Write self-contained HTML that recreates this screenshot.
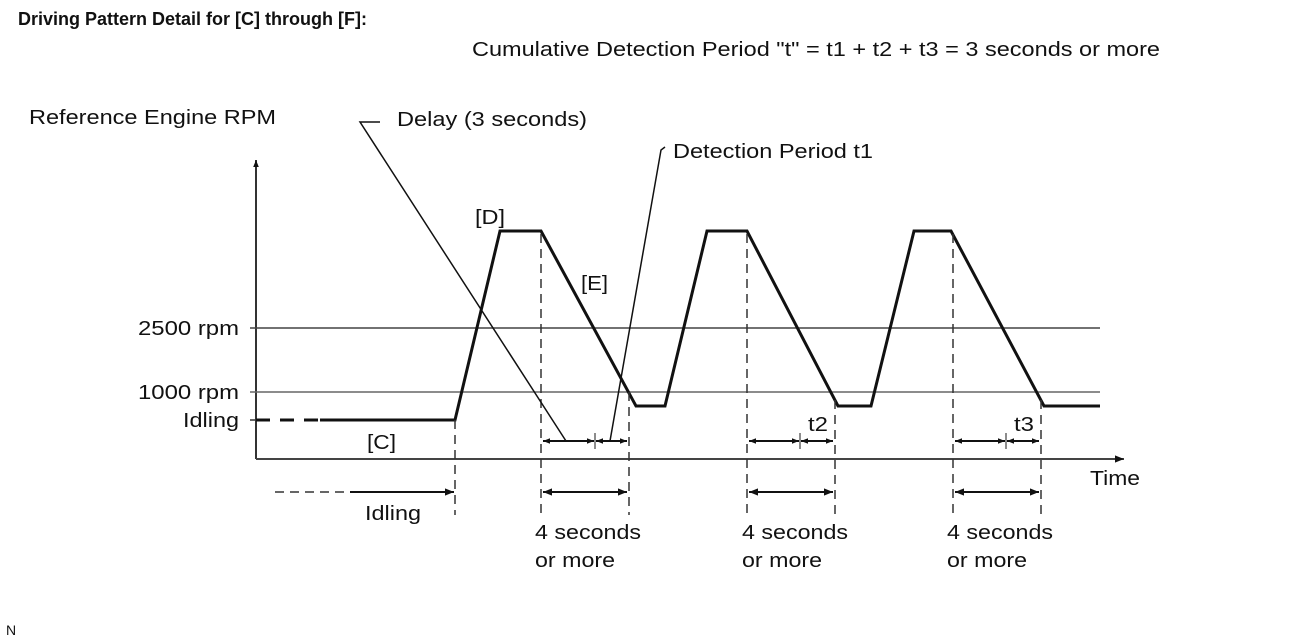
<!DOCTYPE html>
<html><head><meta charset="utf-8"><style>
html,body{margin:0;padding:0;background:#fff;}
svg{display:block;font-family:"Liberation Sans",Arial,sans-serif;}
</style></head><body>
<svg width="1300" height="642" viewBox="0 0 1300 642">
<defs>
<marker id="a" viewBox="0 0 10 10" refX="10" refY="5" markerWidth="12" markerHeight="7" orient="auto-start-reverse" markerUnits="userSpaceOnUse"><path d="M0,1 L10,5 L0,9 z" fill="#111"/></marker>
<marker id="b" viewBox="0 0 10 10" refX="10" refY="5" markerWidth="20" markerHeight="9" orient="auto-start-reverse" markerUnits="userSpaceOnUse"><path d="M0,1 L10,5 L0,9 z" fill="#111"/></marker>
</defs>
<g fill="#111" font-size="20" lengthAdjust="spacingAndGlyphs">
<text x="18" y="25" font-size="18" font-weight="bold" textLength="349" lengthAdjust="spacingAndGlyphs">Driving Pattern Detail for [C] through [F]:</text>
<text x="472" y="56" textLength="688" lengthAdjust="spacingAndGlyphs">Cumulative Detection Period "t" = t1 + t2 + t3 = 3 seconds or more</text>
<text x="29" y="124" textLength="247" lengthAdjust="spacingAndGlyphs">Reference Engine RPM</text>
<text x="397" y="126" textLength="190" lengthAdjust="spacingAndGlyphs">Delay (3 seconds)</text>
<text x="673" y="158" textLength="200" lengthAdjust="spacingAndGlyphs">Detection Period t1</text>
<text x="475" y="224" textLength="30" lengthAdjust="spacingAndGlyphs">[D]</text>
<text x="581" y="290" textLength="27" lengthAdjust="spacingAndGlyphs">[E]</text>
<text x="138" y="335" textLength="101" lengthAdjust="spacingAndGlyphs">2500 rpm</text>
<text x="138" y="399" textLength="101" lengthAdjust="spacingAndGlyphs">1000 rpm</text>
<text x="183" y="427" textLength="56" lengthAdjust="spacingAndGlyphs">Idling</text>
<text x="367" y="449" textLength="29" lengthAdjust="spacingAndGlyphs">[C]</text>
<text x="808" y="431" textLength="20" lengthAdjust="spacingAndGlyphs">t2</text>
<text x="1014" y="431" textLength="20" lengthAdjust="spacingAndGlyphs">t3</text>
<text x="1090" y="485" textLength="50" lengthAdjust="spacingAndGlyphs">Time</text>
<text x="365" y="520" textLength="56" lengthAdjust="spacingAndGlyphs">Idling</text>
<text x="535" y="539" textLength="106" lengthAdjust="spacingAndGlyphs">4 seconds</text><text x="535" y="567" textLength="80" lengthAdjust="spacingAndGlyphs">or more</text>
<text x="742" y="539" textLength="106" lengthAdjust="spacingAndGlyphs">4 seconds</text><text x="742" y="567" textLength="80" lengthAdjust="spacingAndGlyphs">or more</text>
<text x="947" y="539" textLength="106" lengthAdjust="spacingAndGlyphs">4 seconds</text><text x="947" y="567" textLength="80" lengthAdjust="spacingAndGlyphs">or more</text>
<text x="6" y="635" font-size="14">N</text>
</g>
<!-- axes -->
<line x1="256" y1="459" x2="256" y2="160" stroke="#333" stroke-width="2" marker-end="url(#a)"/>
<line x1="256" y1="459" x2="1124" y2="459" stroke="#444" stroke-width="2" marker-end="url(#b)"/>
<line x1="250" y1="328" x2="1100" y2="328" stroke="#444" stroke-width="1.5"/>
<line x1="250" y1="392" x2="1100" y2="392" stroke="#666" stroke-width="1.5"/>
<line x1="250" y1="420" x2="256" y2="420" stroke="#333" stroke-width="1.5"/>
<!-- curve -->
<line x1="256" y1="420" x2="320" y2="420" stroke="#111" stroke-width="3" stroke-dasharray="14,10"/>
<polyline fill="none" stroke="#111" stroke-width="3" points="320,420 455,420 500,231 541,231 636,406 665,406 707,231 747,231 838,406 871,406 914,231 951,231 1044,406 1100,406"/>
<!-- dashed verticals -->
<g stroke="#333" stroke-width="1.5" stroke-dasharray="9,6">
<line x1="455" y1="420" x2="455" y2="515"/>
<line x1="541" y1="234" x2="541" y2="515"/>
<line x1="629" y1="392" x2="629" y2="515"/>
<line x1="747" y1="234" x2="747" y2="515"/>
<line x1="835" y1="400" x2="835" y2="515"/>
<line x1="953" y1="234" x2="953" y2="515"/>
<line x1="1041" y1="400" x2="1041" y2="515"/>
<line x1="275" y1="492" x2="350" y2="492"/>
</g>
<!-- arrows -->
<g stroke="#111" stroke-width="2">
<line x1="350" y1="492" x2="454" y2="492" marker-end="url(#b)"/>
<line x1="543" y1="492" x2="627" y2="492" marker-start="url(#b)" marker-end="url(#b)"/>
<line x1="749" y1="492" x2="833" y2="492" marker-start="url(#b)" marker-end="url(#b)"/>
<line x1="955" y1="492" x2="1039" y2="492" marker-start="url(#b)" marker-end="url(#b)"/>
<line x1="543" y1="441" x2="594" y2="441" marker-start="url(#a)" marker-end="url(#a)"/>
<line x1="596" y1="441" x2="627" y2="441" marker-start="url(#a)" marker-end="url(#a)"/>
<line x1="749" y1="441" x2="799" y2="441" marker-start="url(#a)" marker-end="url(#a)"/>
<line x1="801" y1="441" x2="833" y2="441" marker-start="url(#a)" marker-end="url(#a)"/>
<line x1="955" y1="441" x2="1005" y2="441" marker-start="url(#a)" marker-end="url(#a)"/>
<line x1="1007" y1="441" x2="1039" y2="441" marker-start="url(#a)" marker-end="url(#a)"/>
</g>
<g stroke="#666" stroke-width="1.5">
<line x1="595" y1="433" x2="595" y2="449"/>
<line x1="800" y1="433" x2="800" y2="449"/>
<line x1="1006" y1="433" x2="1006" y2="449"/>
</g>
<!-- leaders -->
<polyline fill="none" stroke="#111" stroke-width="1.5" points="380,122 360,122 566,441"/>
<polyline fill="none" stroke="#111" stroke-width="1.5" points="665,147 661,150 610,441"/>
</svg>
</body></html>
